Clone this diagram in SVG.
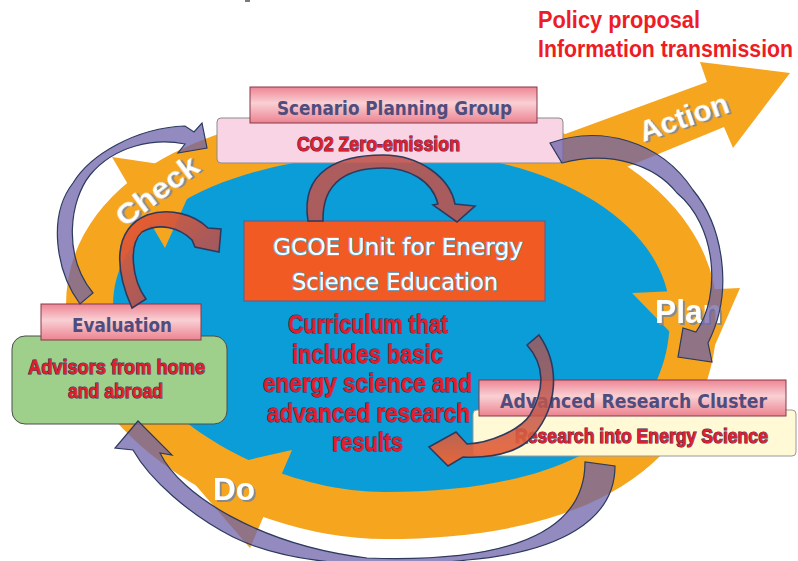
<svg xmlns="http://www.w3.org/2000/svg" xmlns:xlink="http://www.w3.org/1999/xlink" width="798" height="561" viewBox="0 0 798 561">
  <defs>
    <style>
      .ring { fill: none; stroke: #f6a51f; stroke-width: 94; }
      .orange { fill: #f6a51f; }
      .lake { fill: #0a9dd8; }
      .phase { font-family: "Liberation Sans", Arial, sans-serif; font-weight: bold; fill: #ffffff; filter: url(#shadow); }
      .bar { fill: url(#pinkBar); stroke: #85384a; stroke-width: 1; }
      .bar-text { font-family: "DejaVu Sans", "Liberation Sans", sans-serif; font-weight: bold; fill: #4f4c7e; }
      .red { font-family: "Liberation Sans Narrow", "Liberation Sans", Arial, sans-serif; font-weight: bold; fill: #e31e2c; stroke: #3b2a55; stroke-width: 1.1; paint-order: stroke fill; }
      .policy { font-family: "Liberation Sans Narrow", "Liberation Sans", Arial, sans-serif; font-weight: bold; fill: #ee1c25; }
      .unit-text { font-family: "DejaVu Sans", "Noto Sans", sans-serif; fill: #ffffff; stroke: #5aa8d6; stroke-width: 1.4; paint-order: stroke fill; }
      .purple { fill: #6f63aa; fill-opacity: 0.75; stroke: #2d3a5e; stroke-width: 1.2; }
      .brown { stroke: #2d3a5e; stroke-width: 1.6; }
    </style>
    <linearGradient id="pinkBar" x1="0" y1="0" x2="0" y2="1">
      <stop offset="0" stop-color="#ee8593"/>
      <stop offset="0.45" stop-color="#f9d0d4"/>
      <stop offset="1" stop-color="#ec8390"/>
    </linearGradient>
    <linearGradient id="brownA" x1="0" y1="0" x2="1" y2="1">
      <stop offset="0" stop-color="#c0564f" stop-opacity="0.9"/>
      <stop offset="1" stop-color="#b85450" stop-opacity="0.9"/>
    </linearGradient>
    <linearGradient id="brownB" x1="0" y1="0" x2="1" y2="1">
      <stop offset="0" stop-color="#f05a28" stop-opacity="0.95"/>
      <stop offset="0.6" stop-color="#b8524e" stop-opacity="0.9"/>
      <stop offset="1" stop-color="#a8504e" stop-opacity="0.9"/>
    </linearGradient>
    <linearGradient id="brownC" x1="0" y1="0" x2="0" y2="1">
      <stop offset="0" stop-color="#b0504e" stop-opacity="0.75"/>
      <stop offset="0.6" stop-color="#c0584c" stop-opacity="0.85"/>
      <stop offset="1" stop-color="#f26430" stop-opacity="0.95"/>
    </linearGradient>
    <filter id="shadow" x="-20%" y="-20%" width="140%" height="140%">
      <feDropShadow dx="2" dy="2" stdDeviation="0.7" flood-color="#8a8a8a" flood-opacity="1"/>
    </filter>
    <path id="loop" d="M 113,305 C 113,214 232,153 410,153 C 553,153 670,226 670,315 C 670,429 570,492 385,492 C 254,492 113,395 113,305 Z"/>
  </defs>

  <rect x="0" y="0" width="798" height="561" fill="#ffffff"/>
  <rect x="245" y="0" width="5" height="2" fill="#7a7a7a"/>

  <!-- PDCA loop: orange band, outgoing action arrow, blue field and phase heads -->
  <g id="cycle">
    <use xlink:href="#loop" class="ring"/>
    <polygon id="action-arrow" class="orange" points="500,158 707,82 700,62 790,73 733,148 724,127 600,178"/>
    <use xlink:href="#loop" class="lake"/>
    <polygon id="check-head" class="orange" points="112,157 200,170 165,248"/>
    <polygon id="plan-head" class="orange" points="740,288 705,368 632,293"/>
    <polygon id="do-head" class="orange" points="292,450 250,548 186,474"/>
    <text class="phase" font-size="30" text-anchor="middle" textLength="96" lengthAdjust="spacingAndGlyphs" transform="translate(163,199) rotate(-37)">Check</text>
    <text class="phase" font-size="30" text-anchor="middle" textLength="93" lengthAdjust="spacingAndGlyphs" transform="translate(687,127) rotate(-19)">Action</text>
    <text class="phase" x="655" y="323" font-size="33" textLength="67" lengthAdjust="spacingAndGlyphs">Plan</text>
    <text class="phase" x="213" y="500" font-size="32" textLength="42" lengthAdjust="spacingAndGlyphs">Do</text>
  </g>

  <g id="policy-output">
    <text class="policy" x="538" y="28" font-size="23" textLength="162" lengthAdjust="spacingAndGlyphs">Policy proposal</text>
    <text class="policy" x="538" y="57" font-size="23" textLength="255" lengthAdjust="spacingAndGlyphs">Information transmission</text>
  </g>

  <g id="scenario-planning-group">
    <rect x="217" y="118" width="346" height="45" rx="4" fill="#f9d4e4" stroke="#8b8b8b" stroke-width="1"/>
    <rect class="bar" x="250" y="87" width="287" height="36"/>
    <text class="bar-text" x="277" y="115" font-size="19" textLength="235" lengthAdjust="spacingAndGlyphs">Scenario Planning Group</text>
    <text class="red" x="297" y="151" font-size="21" textLength="163" lengthAdjust="spacingAndGlyphs">CO2 Zero-emission</text>
  </g>

  <g id="gcoe-unit">
    <rect x="244" y="221" width="301" height="80" fill="#f15a22" stroke="#5d5a8f" stroke-width="1"/>
    <text class="unit-text" x="273" y="255" font-size="23" textLength="250" lengthAdjust="spacingAndGlyphs">GCOE Unit for Energy</text>
    <text class="unit-text" x="292" y="290" font-size="23" textLength="206" lengthAdjust="spacingAndGlyphs">Science Education</text>
  </g>

  <g id="curriculum">
    <text class="red" x="288" y="333" font-size="25.5" textLength="160" lengthAdjust="spacingAndGlyphs">Curriculum that</text>
    <text class="red" x="292" y="362.5" font-size="25.5" textLength="151" lengthAdjust="spacingAndGlyphs">includes basic</text>
    <text class="red" x="263" y="392" font-size="25.5" textLength="209" lengthAdjust="spacingAndGlyphs">energy science and</text>
    <text class="red" x="267" y="421.5" font-size="25.5" textLength="203" lengthAdjust="spacingAndGlyphs">advanced research</text>
    <text class="red" x="332" y="451" font-size="25.5" textLength="71" lengthAdjust="spacingAndGlyphs">results</text>
  </g>

  <g id="evaluation">
    <rect x="12" y="336" width="215" height="88" rx="13" fill="#9fd08b" stroke="#4d4d4d" stroke-width="1"/>
    <rect class="bar" x="41" y="304" width="160" height="36"/>
    <text class="bar-text" x="72" y="332" font-size="19" textLength="100" lengthAdjust="spacingAndGlyphs">Evaluation</text>
    <text class="red" x="28" y="374" font-size="20" textLength="177" lengthAdjust="spacingAndGlyphs">Advisors from home</text>
    <text class="red" x="68" y="398" font-size="20" textLength="95" lengthAdjust="spacingAndGlyphs">and abroad</text>
  </g>

  <g id="advanced-research-cluster">
    <rect x="473" y="410" width="323" height="46" rx="4" fill="#fff9d6" stroke="#999999" stroke-width="1"/>
    <rect class="bar" x="479" y="380" width="307" height="36"/>
    <text class="bar-text" x="500" y="408" font-size="20" textLength="267" lengthAdjust="spacingAndGlyphs">Advanced Research Cluster</text>
    <text class="red" x="515" y="443" font-size="20" textLength="253" lengthAdjust="spacingAndGlyphs">Research into Energy Science</text>
  </g>

  <!-- curved block arrows -->
  <g id="connectors">
    <path id="eval-to-scenario" class="purple" d="M 80,304 C 55,270 48,215 73,183 C 90,155 135,128 185,126 L 194,132 L 202,123 L 207,148 L 178,153 L 185,144 C 155,138 115,145 90,175 C 70,200 62,255 93,293 Z"/>
    <path id="scenario-to-plan" class="purple" d="M 550,143 C 600,125 660,140 693,190 C 722,225 735,290 708,343 L 712,362 L 678,357 L 683,328 L 696,332 C 722,295 716,225 677,193 C 655,165 610,150 562,163 Z"/>
    <path id="research-to-eval" class="purple" d="M 615,466 C 615,520 560,552 467,560 C 380,570 290,565 233,537 C 190,515 150,480 133,450 L 115,448 L 138,421 L 172,455 L 160,453 C 180,495 260,545 367,558 C 480,562 585,545 585,462 Z"/>
    <path id="scenario-to-unit" class="brown" fill="url(#brownA)" d="M 308,221 C 300,170 340,155 383,155 C 420,155 450,178 455,204 L 475,206 L 457,222 L 433,205 L 438,204 C 432,180 408,168 383,168 C 350,168 322,180 323,221 Z"/>
    <path id="eval-to-unit" class="brown" fill="url(#brownB)" d="M 132,308 C 115,270 112,230 147,215 C 170,207 195,215 208,228 L 221,229 L 219,252 L 195,247 L 192,240 C 180,228 160,222 142,232 C 128,245 132,280 146,299 Z"/>
    <path id="research-to-curriculum" class="brown" fill="url(#brownC)" d="M 539,335 C 560,365 560,410 527,442 C 510,455 485,458 463,457 L 448,466 L 429,447 L 456,432 L 467,444 C 490,443 520,430 530,415 C 545,390 545,365 527,345 Z"/>
  </g>
</svg>
